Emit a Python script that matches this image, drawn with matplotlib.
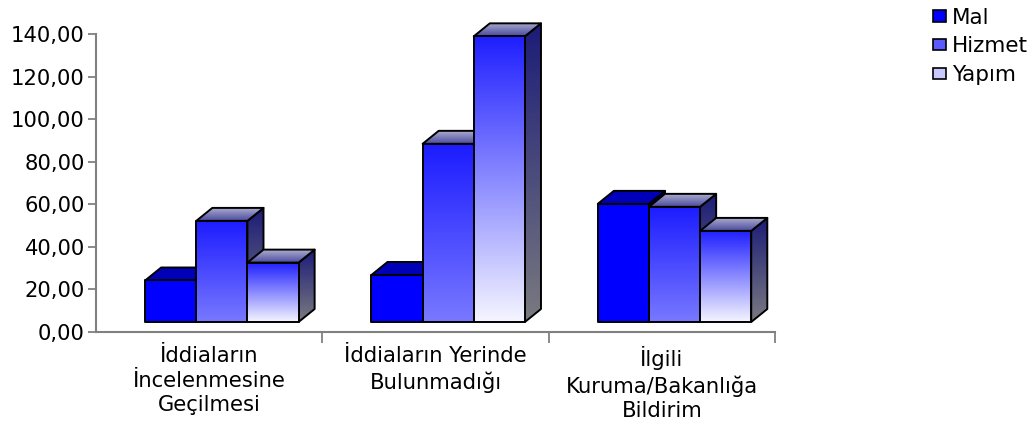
import numpy as np
import matplotlib
matplotlib.use("Agg")
import matplotlib.pyplot as plt
from matplotlib.patches import Polygon, Patch
from matplotlib.colors import to_rgb

categories = ["İddiaların\nİncelenmesine\nGeçilmesi",
              "İddiaların Yerinde\nBulunmadığı",
              "İlgili\nKuruma/Bakanlığa\nBildirim"]
series = ["Mal", "Hizmet", "Yapım"]
mal = [24.2, 26.8, 60.2]
hizmet = [52.2, 88.4, 58.8]
yapim = [32.6, 138.9, 47.5]
yticks = [0, 20, 40, 60, 80, 100, 120, 140]

plt.rcParams['font.family'] = ['DejaVu Sans']

fig = plt.figure(figsize=(10.35, 4.25), dpi=100)
ax = fig.add_axes([96 / 1035, 1 - 332 / 425, (775 - 96) / 1035, (332 - 12.7) / 425])

# 3d look: floor raised a bit, depth offsets in data units
floor = 4.7
ddx = 0.071
ddy = 6.1
width = 0.226
offs = [-0.17, 0.056, 0.282]

# (front top, front bottom, side top, side bottom, top back, top front)
styles = {
    "Mal": ("#0000ff", "#0000ff", "#00008c", "#00008c", "#0000b8", "#0000b8"),
    "Hizmet": ("#1c1cff", "#7878ff", "#1c1c78", "#7a7a80", "#aaaacc", "#4a4aa0"),
    "Yapım": ("#2020ff", "#f4f4ff", "#1c1c78", "#7a7a80", "#aaaacc", "#4a4aa0"),
}


def grad(x0, x1, y0, y1, ctop, cbot, poly, z):
    t = np.linspace(0, 1, 64)[:, None, None]
    arr = (1 - t) * np.array(to_rgb(ctop)) + t * np.array(to_rgb(cbot))
    arr = np.repeat(arr, 2, axis=1)
    im = ax.imshow(arr, extent=(x0, x1, y0, y1), origin='upper', aspect='auto',
                   interpolation='bilinear', zorder=z)
    im.set_clip_path(poly)


data = [mal, hizmet, yapim]
z = 2
for i in range(len(categories)):
    for s, vals in enumerate(data):
        v = vals[i]
        fc_t, fc_b, sc_t, sc_b, tc_b, tc_f = styles[series[s]]
        x0 = i + offs[s] - width / 2
        x1 = x0 + width
        side = Polygon([(x1, floor), (x1 + ddx, floor + ddy), (x1 + ddx, v + ddy), (x1, v)],
                       closed=True, facecolor='none', edgecolor='black', lw=1.4,
                       zorder=z + 0.5, joinstyle='round')
        ax.add_patch(side)
        grad(x1, x1 + ddx, floor, v + ddy, sc_t, sc_b, side, z)
        top = Polygon([(x0, v), (x1, v), (x1 + ddx, v + ddy), (x0 + ddx, v + ddy)],
                      closed=True, facecolor='none', edgecolor='black', lw=1.4,
                      zorder=z + 1.5, joinstyle='round')
        ax.add_patch(top)
        grad(x0, x1 + ddx, v, v + ddy, tc_b, tc_f, top, z + 1)
        front = Polygon([(x0, floor), (x1, floor), (x1, v), (x0, v)],
                        closed=True, facecolor='none', edgecolor='black', lw=1.4,
                        zorder=z + 2.5, joinstyle='round')
        ax.add_patch(front)
        grad(x0, x1, floor, v, fc_t, fc_b, front, z + 2)
        z += 3

ax.set_xlim(-0.5, 2.5)
ax.set_ylim(0, 150)
ax.set_yticks(yticks)
ax.set_yticklabels([f"{t:.2f}".replace(".", ",") for t in yticks], fontsize=15.2)
ax.set_xticks(range(len(categories)))
ax.set_xticklabels(categories, fontsize=15.2, linespacing=1.3)
ax.set_xticks([0.5, 1.5, 2.5], minor=True)
ax.tick_params(axis='x', which='major', length=0, pad=10)
ax.tick_params(axis='x', which='minor', length=8, width=1.3, color='#808080', direction='out')
ax.tick_params(axis='y', length=6, width=1.3, color='#808080', direction='out', pad=2)
for sp in ['top', 'right']:
    ax.spines[sp].set_visible(False)
for sp in ['left', 'bottom']:
    ax.spines[sp].set_color('#808080')
    ax.spines[sp].set_linewidth(1.5)
ax.spines['left'].set_bounds(0, 140)
ax.patch.set_visible(False)

handles = [Patch(facecolor="#0000ff", edgecolor='black', lw=1.2),
           Patch(facecolor="#5a5aff", edgecolor='black', lw=1.2),
           Patch(facecolor="#c8c8ff", edgecolor='black', lw=1.2)]
fig.legend(handles, series, loc='upper left', bbox_to_anchor=(922 / 1035, 1 + 3 / 425),
           frameon=False, fontsize=15.5, handlelength=0.6, handleheight=0.45,
           handletextpad=0.3, labelspacing=0.4, borderpad=0.0)

fig.savefig("out.png", dpi=100)
